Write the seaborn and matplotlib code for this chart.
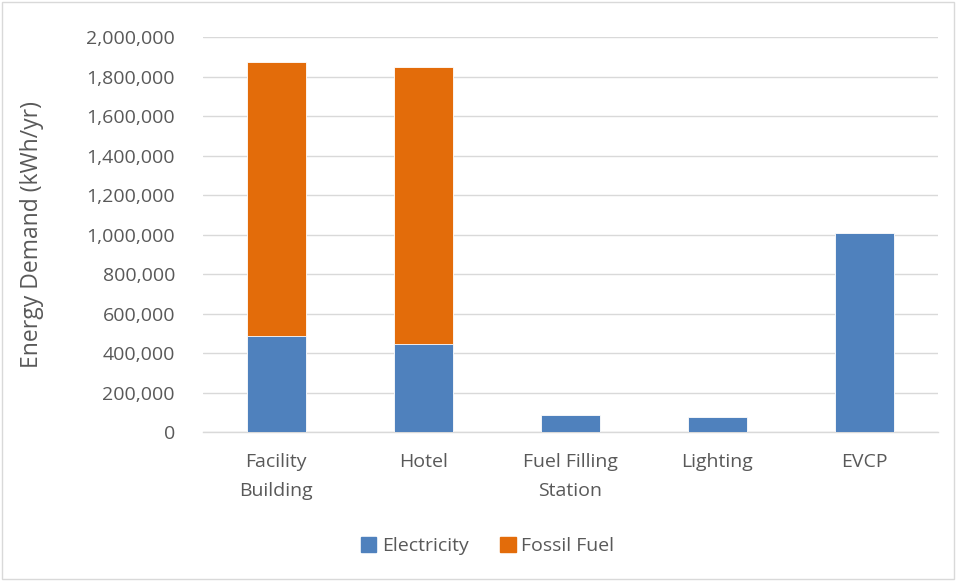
import seaborn as sns
import matplotlib.pyplot as plt
import pandas as pd
from matplotlib.patches import Patch

categories = ["Facility\nBuilding", "Hotel", "Fuel Filling\nStation", "Lighting", "EVCP"]
electricity = [486000, 449000, 85000, 78000, 1008000]
fossil_fuel = [1387000, 1399000, 0, 0, 0]

blue = "#4f81bd"
orange = "#e36c0a"
txt = "#595959"

sns.set_style("white")
plt.rcParams['font.family'] = ['Open Sans', 'DejaVu Sans']

df = pd.DataFrame({"cat": categories, "elec": electricity,
                   "total": [e + f for e, f in zip(electricity, fossil_fuel)]})

fig = plt.figure(figsize=(9.56, 5.81), dpi=100)
ax = fig.add_axes([0.212, 0.256, 0.769, 0.68])

sns.barplot(data=df, x="cat", y="total", color=orange, width=0.4,
            saturation=1, edgecolor="white", linewidth=0.6, ax=ax, zorder=3)
sns.barplot(data=df, x="cat", y="elec", color=blue, width=0.4,
            saturation=1, edgecolor="white", linewidth=0.6, ax=ax, zorder=4)

ax.set_ylim(0, 2000000)
ax.set_yticks(range(0, 2000001, 200000))
ax.set_yticklabels([f"{v:,}" for v in range(0, 2000001, 200000)])
ax.yaxis.grid(True, color="#d9d9d9", linewidth=1, zorder=0)
ax.set_axisbelow(True)
for s in ["top", "right", "left"]:
    ax.spines[s].set_visible(False)
ax.spines["bottom"].set_color("#d9d9d9")
ax.spines["bottom"].set_linewidth(1)
ax.tick_params(axis="both", length=0, labelsize=14, colors=txt)
ax.tick_params(axis="y", pad=20)
ax.tick_params(axis="x", pad=15)
for lab in ax.get_xticklabels():
    lab.set_linespacing(1.78)
ax.set_xlabel("")
ax.set_ylabel("Energy Demand (kWh/yr)", fontsize=16.5, color=txt)
ax.yaxis.set_label_coords(-0.216, 0.5)

handles = [Patch(color=blue, label="Electricity"), Patch(color=orange, label="Fossil Fuel")]
fig.legend(handles=handles, loc="center", bbox_to_anchor=(0.51, 0.06), ncol=2,
           frameon=False, fontsize=14, labelcolor=txt, handlelength=0.8,
           handleheight=0.8, handletextpad=0.3, columnspacing=1.6)

fig.patches.append(plt.Rectangle((0.002, 0.003), 0.996, 0.994, transform=fig.transFigure,
                                 fill=False, edgecolor="#d9d9d9", linewidth=1))

fig.savefig("out.png", dpi=100)
